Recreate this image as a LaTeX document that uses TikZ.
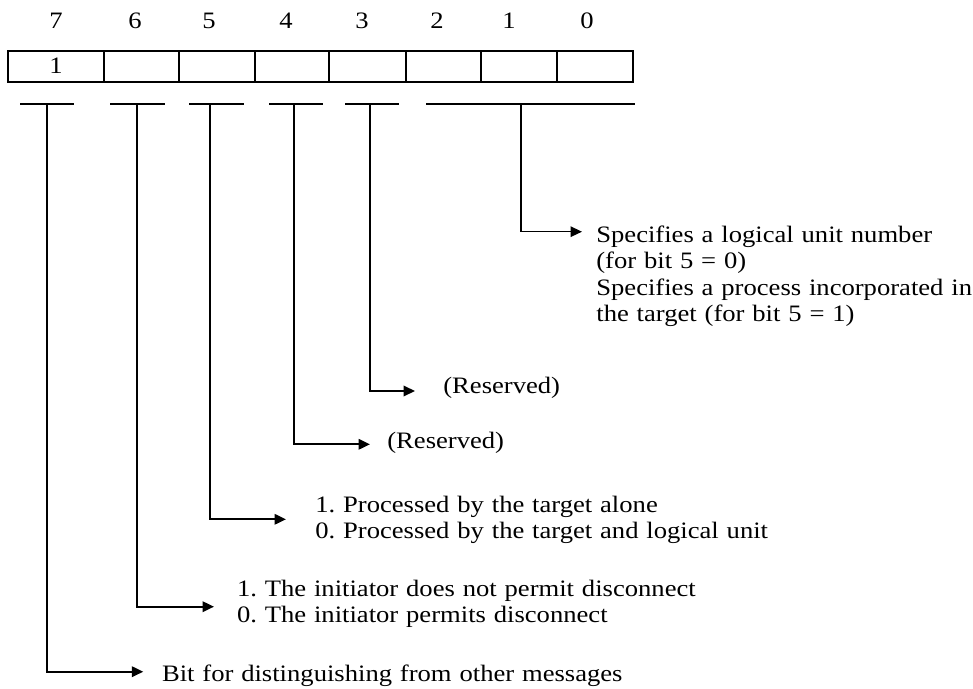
\documentclass[tikz,border=0pt]{standalone}
\usepackage{fontspec}
\setmainfont{Liberation Serif}[FakeStretch=1.13]
\frenchspacing
\usetikzlibrary{arrows.meta}
\tikzset{%
  >={Triangle[width=2.1mm,length=2.3mm]},
  % Specifications for style of nodes:
      bitFont/.style = {font=\fontsize{13.4pt}{15.1pt}\selectfont},
       bitNum/.style = {bitFont, inner sep=0pt},
      bitCell/.style = {rectangle, draw=black, line width=0.4mm,
                        minimum height=6.2mm, inner sep=0pt, bitFont},
     bitNote/.style = {bitFont, inner sep=0pt, text width=10cm,
                        align=left, anchor=base west},
    fieldBar/.style = {line width=0.4mm},
   fieldLead/.style = {line width=0.4mm, ->},
}

\begin{document}
\begin{tikzpicture}[x=0.2mm, y=-0.2mm]
  \useasboundingbox (0,0) rectangle (973,688);
  % Bit numbers over the register
  \foreach \b/\x in {7/56, 6/135, 5/209, 4/286, 3/362, 2/437, 1/509, 0/587}
    \node (num\b) [bitNum] at (\x,20.7) {\b};
  % Register cells (left edge / right edge)
  \foreach \b/\l/\r in {7/8/104, 6/104/179, 5/179/255, 4/255/329,
                        3/329/406, 2/406/481, 1/481/557, 0/557/633} {
    \pgfmathsetmacro\w{(\r-\l)*0.2}
    \node (cell\b) [bitCell, minimum width=\w mm] at ({(\l+\r)/2},66.2)
      {\ifnum\b=7 1\fi};
  }
  % Brackets under the fields
  \foreach \l/\r in {20/74, 110/165, 189/244, 269/323, 345/399}
    \draw[fieldBar] (\l,104) -- (\r,104);
  \draw[fieldBar, line width=0.3mm] (426,104) -- (635,104);
  % Start and end points of the leads
  \coordinate (top7) at (47.3,104);
  \coordinate (top6) at (137.3,104);
  \coordinate (top5) at (210,104);
  \coordinate (top4) at (293.7,104);
  \coordinate (top3) at (369.7,104);
  \coordinate (top0) at (521,104);
  \coordinate (end7) at (143.3,671.7);
  \coordinate (end6) at (214,606.7);
  \coordinate (end5) at (286,519.3);
  \coordinate (end4) at (370,444.3);
  \coordinate (end3) at (415,391);
  \coordinate (end0) at (582,231.7);
  % Descriptions
  \node (txt0) [bitNote] at (596,242)
    {Specifies a logical unit number\\(for bit 5 = 0)\\
     Specifies a process incorporated in\\the target (for bit 5 = 1)};
  \node (txt3) [bitNote] at (443,393)   {(Reserved)};
  \node (txt4) [bitNote] at (387,448)   {(Reserved)};
  \node (txt5) [bitNote] at (315,512)
    {1. Processed by the target alone\\0. Processed by the target and logical unit};
  \node (txt6) [bitNote] at (236.7,596)
    {1. The initiator does not permit disconnect\\0. The initiator permits disconnect};
  \node (txt7) [bitNote] at (161.7,681) {Bit for distinguishing from other messages};
  \draw[fieldLead] (top7) |- (end7);
  \draw[fieldLead] (top6) |- (end6);
  \draw[fieldLead] (top5) |- (end5);
  \draw[fieldLead] (top4) |- (end4);
  \draw[fieldLead] (top3) |- (end3);
  \draw[fieldLead, line width=0.3mm] (top0) |- (end0);
\end{tikzpicture}
\end{document}
